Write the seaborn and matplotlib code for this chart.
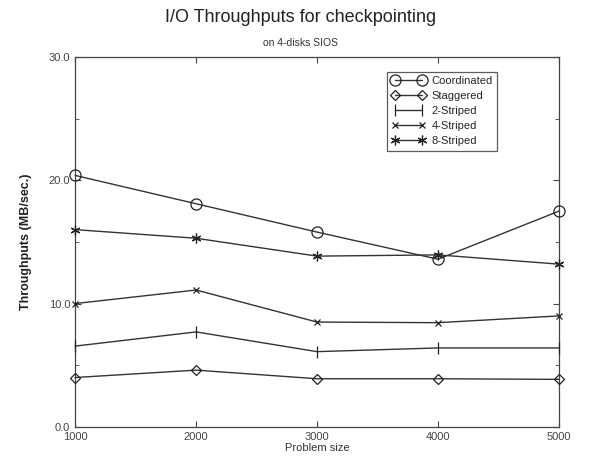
import pandas as pd
import seaborn as sns
import matplotlib.pyplot as plt

problem_size = [1000, 2000, 3000, 4000, 5000]
coordinated = [20.4, 18.1, 15.8, 13.6, 17.5]
staggered = [4.0, 4.6, 3.9, 3.9, 3.85]
striped2 = [6.55, 7.7, 6.1, 6.4, 6.4]
striped4 = [10.0, 11.1, 8.5, 8.45, 9.0]
striped8 = [16.0, 15.3, 13.85, 13.95, 13.2]

series = {
    "Coordinated": coordinated,
    "Staggered": staggered,
    "2-Striped": striped2,
    "4-Striped": striped4,
    "8-Striped": striped8,
}
markers = {
    "Coordinated": dict(marker="o", markersize=8, markerfacecolor="none"),
    "Staggered": dict(marker="D", markersize=5, markerfacecolor="none"),
    "2-Striped": dict(marker="|", markersize=9),
    "4-Striped": dict(marker="x", markersize=5),
    "8-Striped": dict(marker=(6, 2, 0), markersize=7),
}

sns.set_style("ticks")
plt.rcParams["font.family"] = ["Liberation Sans", "DejaVu Sans"]

fig = plt.figure(figsize=(6.01, 4.68), dpi=100)
ax = fig.add_axes([0.125, 0.088, 0.805, 0.79])

for name, vals in series.items():
    df = pd.DataFrame({"size": problem_size, "tp": vals})
    sns.lineplot(data=df, x="size", y="tp", ax=ax, color="#333333",
                 linewidth=1.0, markeredgecolor="#222222",
                 markeredgewidth=0.9, label=name, clip_on=False,
                 zorder=3, **markers[name])

ax.set_xlim(1000, 5000)
ax.set_ylim(0, 30)
ax.set_xticks(problem_size)
ax.set_yticks([0, 10, 20, 30])
ax.set_yticklabels(["0.0", "10.0", "20.0", "30.0"])
ax.set_yticks([5, 15, 25], minor=True)
ax.tick_params(which="both", direction="in", top=True, right=True,
               labelsize=8, labelcolor="#444444", color="#444444")
ax.tick_params(which="major", length=4)
ax.tick_params(which="minor", length=3)
for s in ax.spines.values():
    s.set_color("#444444")
    s.set_linewidth(0.9)

ax.set_xlabel("Problem size", fontsize=8, color="#333333", labelpad=1)
ax.set_ylabel("Throughputs (MB/sec.)", fontsize=9, color="#222222",
              fontweight="bold", labelpad=12)

fig.text(0.5, 0.962, "I/O Throughputs for checkpointing", ha="center",
         va="center", fontsize=13, color="#222222")
fig.text(0.5, 0.908, "on 4-disks SIOS", ha="center", va="center",
         fontsize=7.5, color="#333333")

leg = ax.legend(loc="upper left", bbox_to_anchor=(0.645, 0.96), numpoints=2,
                fontsize=8, frameon=True, fancybox=False, handlelength=3.0,
                handletextpad=0.6, borderpad=0.4, labelspacing=0.45,
                borderaxespad=0)
leg.get_frame().set_edgecolor("#333333")
leg.get_frame().set_linewidth(0.9)

fig.savefig("out.png", dpi=100)
